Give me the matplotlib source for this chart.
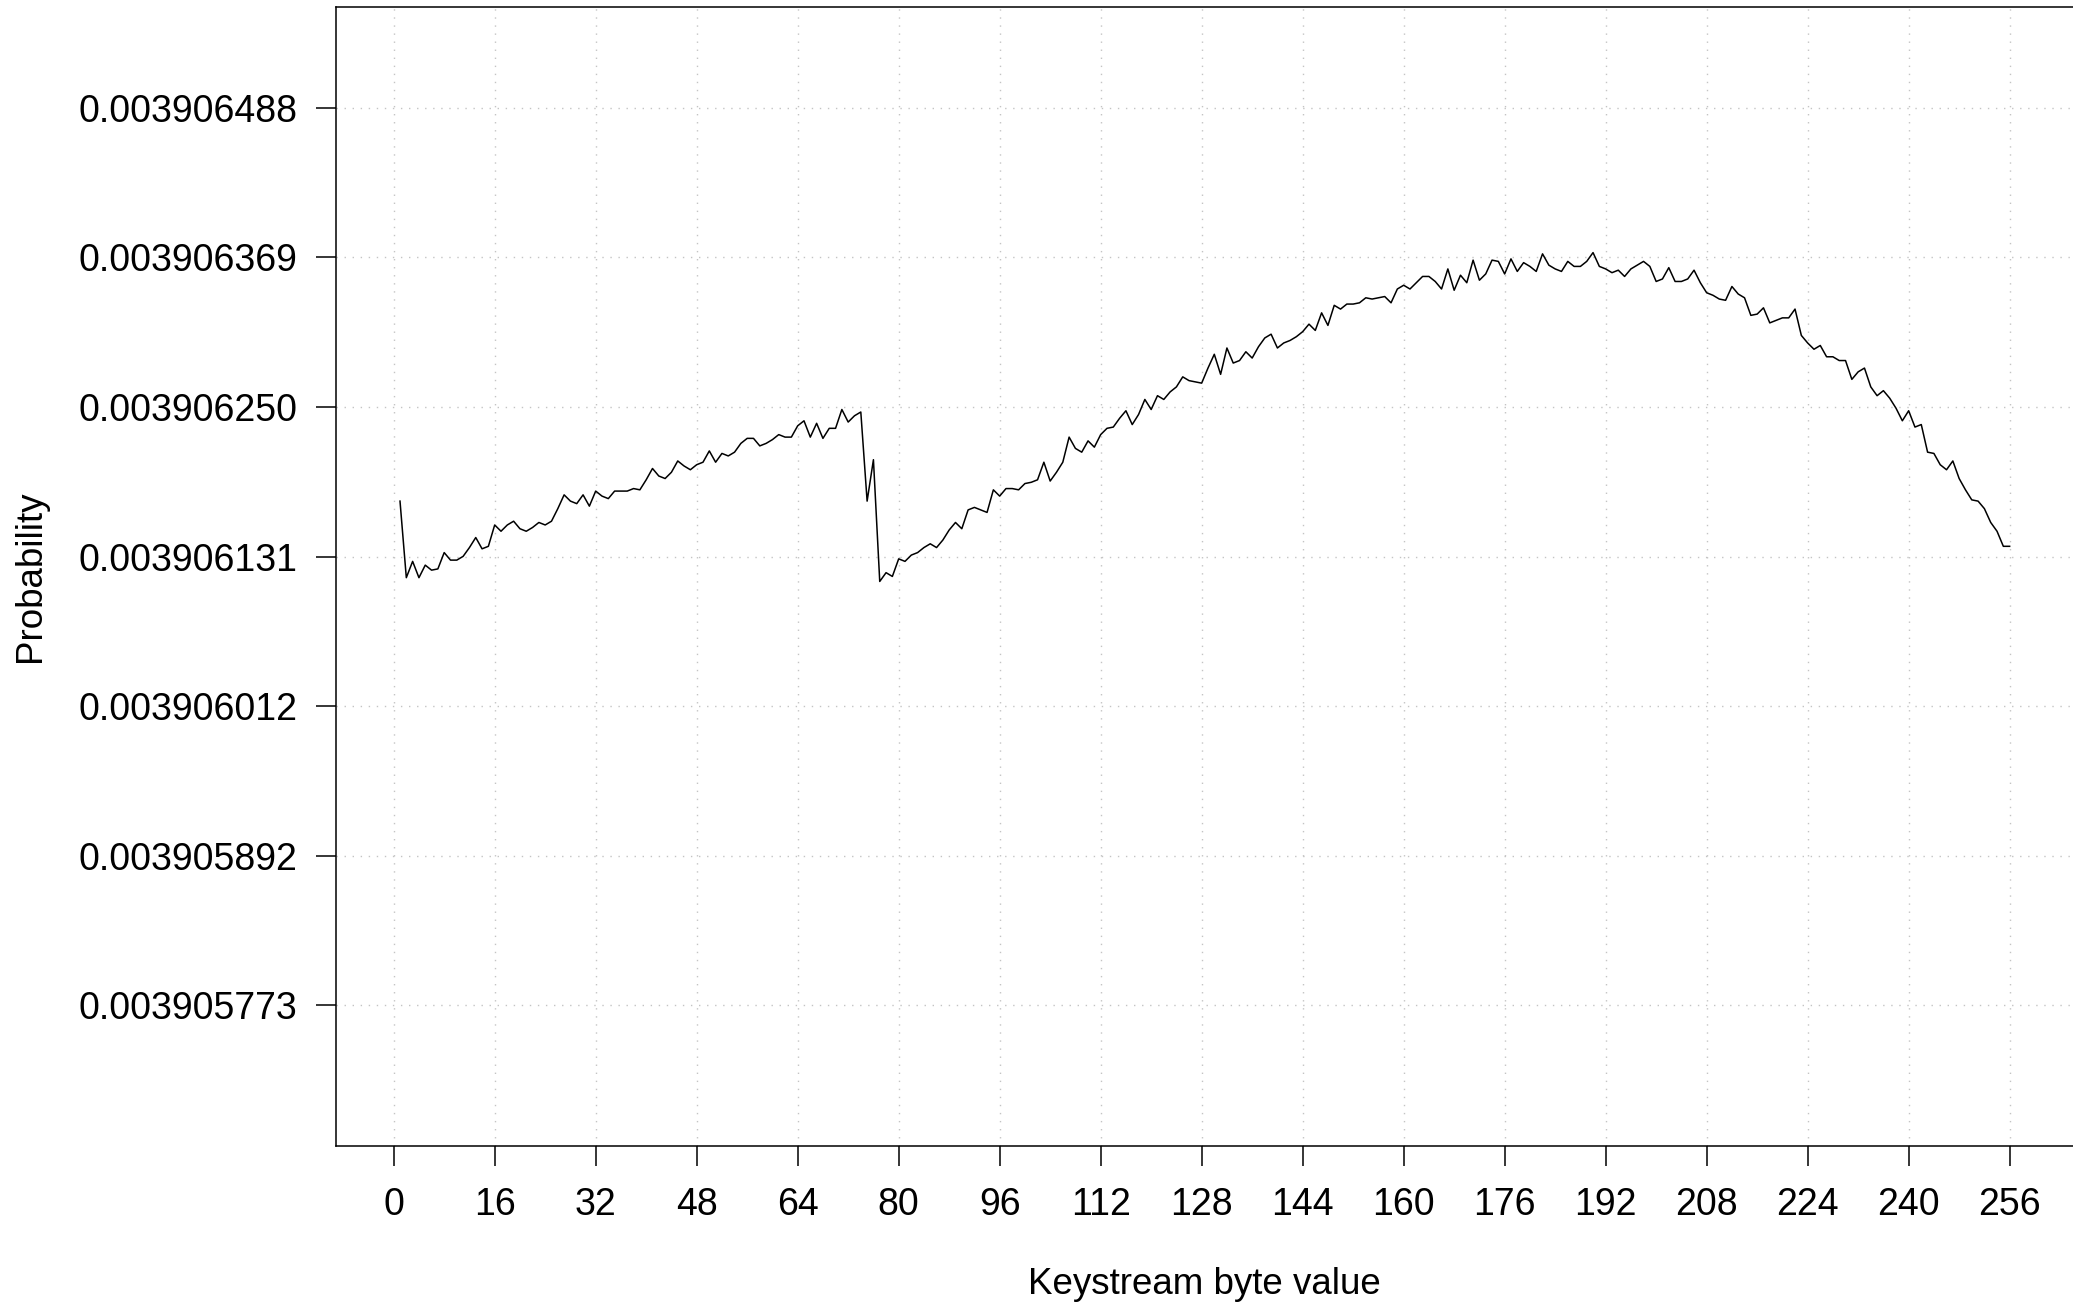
import matplotlib
matplotlib.use("Agg")
import matplotlib.pyplot as plt
import numpy as np

# deviation from 1/256, in units of 1e-9, for keystream byte values 1..256
byte_value = np.arange(1, 257)
deviation = [
    -75, -136, -123, -136, -126, -130, -129, -116, -122, -122,
    -119, -112, -104, -113, -111, -94, -99, -94, -91, -97,
    -99, -96, -92, -94, -91, -81, -70, -75, -77, -70,
    -79, -67, -71, -73, -67, -67, -67, -65, -66, -58,
    -49, -55, -57, -52, -43, -47, -50, -46, -44, -35,
    -44, -37, -39, -36, -29, -25, -25, -31, -29, -26,
    -22, -24, -24, -15, -11, -24, -13, -25, -17, -17,
    -2, -12, -7, -4, -75, -42, -139, -132, -135, -121,
    -123, -118, -116, -112, -109, -112, -106, -98, -92, -97,
    -82, -80, -82, -84, -66, -71, -65, -65, -66, -61,
    -60, -58, -44, -59, -52, -44, -24, -33, -36, -27,
    -32, -22, -17, -16, -9, -3, -14, -6, 6, -2,
    9, 6, 12, 16, 24, 21, 20, 19, 31, 42,
    26, 47, 35, 37, 44, 39, 48, 55, 58, 47,
    51, 53, 56, 60, 66, 61, 75, 65, 81, 78,
    82, 82, 83, 87, 86, 87, 88, 83, 94, 97,
    94, 99, 104, 104, 100, 94, 110, 93, 105, 99,
    117, 101, 106, 117, 116, 106, 118, 108, 115, 112,
    108, 122, 113, 110, 108, 116, 112, 112, 116, 123,
    112, 110, 107, 109, 104, 110, 113, 116, 112, 100,
    102, 111, 100, 100, 102, 109, 99, 91, 89, 86,
    85, 96, 90, 87, 73, 74, 79, 67, 69, 71,
    71, 78, 57, 51, 46, 49, 40, 40, 37, 37,
    22, 28, 31, 16, 9, 13, 7, -1, -11, -3,
    -16, -14, -36, -37, -46, -50, -43, -57, -66, -74,
    -75, -81, -92, -99, -111, -111,
]
probability = 1.0 / 256 + np.array(deviation) * 1e-9

x_ticks = np.arange(0, 257, 16)
y_steps = np.arange(-4, 3)
y_ticks = 1.0 / 256 + y_steps * 2.0 ** -23
y_labels = ["%.9f" % t for t in y_ticks]

plt.rcParams['font.family'] = ['Liberation Sans', 'DejaVu Sans']

fig = plt.figure(figsize=(20.73, 13.03), dpi=100)
ax = fig.add_axes([0.1619, 0.1205, 0.8386, 0.8741])

ax.plot(byte_value, probability, color="black", linewidth=1.1)

ax.set_xlim(-9.2, 266.2)
ax.set_ylim(1.0 / 256 - 4.939 * 2.0 ** -23, 1.0 / 256 + 2.673 * 2.0 ** -23)

ax.set_xticks(x_ticks)
ax.set_xticklabels([str(t) for t in x_ticks])
ax.set_yticks(y_ticks)
ax.set_yticklabels(y_labels)

ax.grid(True, color="#c4c4c4", linestyle=(0, (1, 4.8)), linewidth=1.0)
ax.set_axisbelow(True)

ax.tick_params(axis="both", labelsize=27, length=14.4, width=1.1,
               direction="out")
ax.tick_params(axis="x", pad=15)
ax.tick_params(axis="y", pad=13)

for sp in ax.spines.values():
    sp.set_linewidth(1.1)

# axis titles placed where R puts them
fig.text(0.581, 1 - 1285 / 1303, "Keystream byte value", fontsize=26.5,
         ha="center", va="center")
fig.text(30.5 / 2073, 1 - 576 / 1303, "Probability", fontsize=26.5,
         rotation=90, ha="center", va="center")

fig.savefig("out.png", dpi=100)
